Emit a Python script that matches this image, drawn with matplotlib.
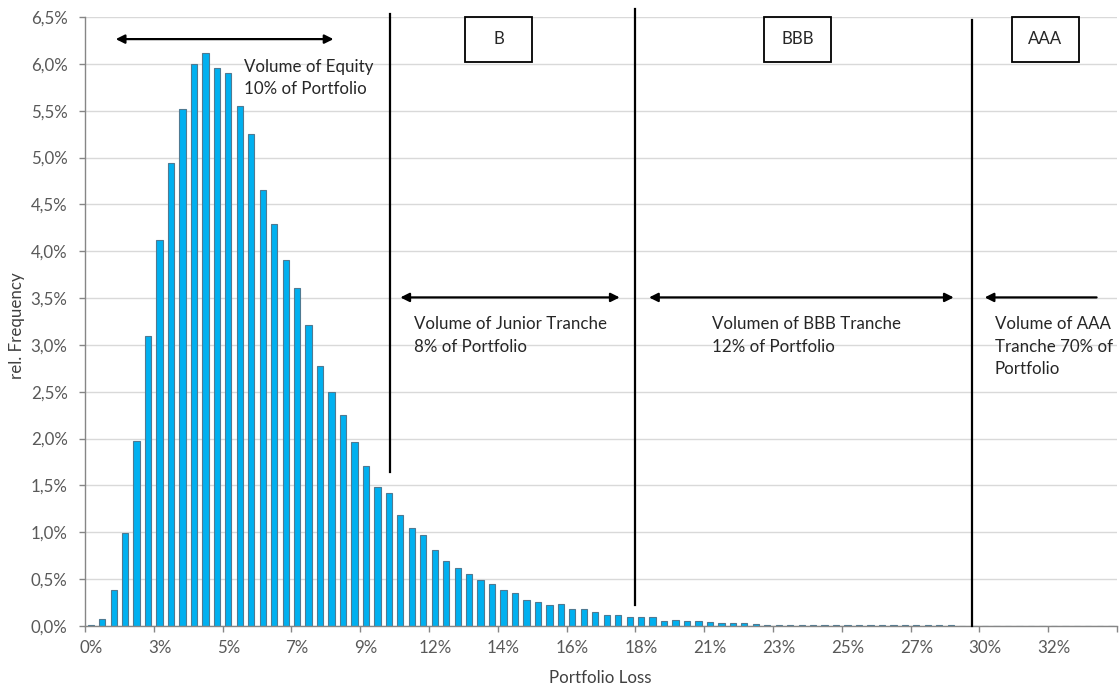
import matplotlib
matplotlib.use("Agg")
import numpy as np
import matplotlib.pyplot as plt
from matplotlib.patches import Rectangle
from matplotlib.ticker import FuncFormatter

# relative frequency (%) per loss bucket
loss_freq = [
    0.01, 0.075, 0.386, 0.993, 1.975, 3.094, 4.116, 4.941, 5.521, 5.998,
    6.112, 5.959, 5.906, 5.553, 5.251, 4.657, 4.286, 3.905, 3.612, 3.217,
    2.772, 2.495, 2.253, 1.968, 1.712, 1.488, 1.42, 1.187, 1.045, 0.972,
    0.809, 0.695, 0.62, 0.553, 0.489, 0.451, 0.383, 0.347, 0.282, 0.252,
    0.221, 0.232, 0.179, 0.186, 0.146, 0.118, 0.118, 0.093, 0.093, 0.093,
    0.054, 0.061, 0.054, 0.054, 0.043, 0.027, 0.033, 0.027, 0.018, 0.014,
    0.014, 0.014, 0.014, 0.014, 0.014, 0.008, 0.006, 0.006, 0.006, 0.006,
    0.006, 0.006, 0.006, 0.006, 0.006, 0.006, 0.004, 0.004, 0.004, 0.004,
    0.004, 0.004, 0.004, 0.004, 0.004, 0.004, 0.004, 0.004, 0.0, 0.0,
]
x_labels = ["0%", "3%", "5%", "7%", "9%", "12%", "14%", "16%", "18%",
            "21%", "23%", "25%", "27%", "30%", "32%"]
label_step = 6
tranche_names = ["B", "BBB", "AAA"]

plt.rcParams['font.family'] = ['Lato', 'DejaVu Sans']
fs = 12.2

W, H = 1119, 688
fig = plt.figure(figsize=(W / 100, H / 100), dpi=100)
ax = fig.add_axes([85 / W, 62 / H, 1032 / W, 609 / H])

n = len(loss_freq)
ax.bar(range(n), loss_freq, width=0.55, color='#00b0f0',
       edgecolor='#4f7a92', linewidth=0.8, zorder=2)

ax.set_xlim(-0.5, n - 0.5)
ax.set_ylim(0, 6.5)
ax.set_yticks(np.arange(0, 6.51, 0.5))
ax.yaxis.set_major_formatter(FuncFormatter(lambda v, p: f"{v:.1f}%".replace('.', ',')))
ax.grid(axis='y', color='#d9d9d9', linewidth=1, zorder=0)
ax.set_axisbelow(True)

ax.set_xticks(range(0, label_step * len(x_labels), label_step))
ax.set_xticklabels(x_labels)
ax.set_xticks(np.arange(-0.5, n, label_step), minor=True)
ax.tick_params(axis='x', which='major', length=0, pad=10, labelsize=fs, labelcolor='#595959')
ax.tick_params(axis='x', which='minor', length=4.5, width=1, color='#868686')
ax.tick_params(axis='y', length=4.5, width=1, color='#868686', pad=8,
               labelsize=fs, labelcolor='#595959')

for side in ['top', 'right']:
    ax.spines[side].set_visible(False)
for side in ['left', 'bottom']:
    ax.spines[side].set_color('#868686')
    ax.spines[side].set_linewidth(1)

fig.text(17 / W, 1 - 326 / H, "rel. Frequency", rotation=90, ha='center', va='center',
         fontsize=fs, color='#404040')
fig.text(600 / W, 1 - 678 / H, "Portfolio Loss", ha='center', va='center',
         fontsize=fs, color='#404040')

# tranche boundaries
for x, y0, y1 in [(26.09, 1.645, 6.53), (47.45, 0.224, 6.59), (76.89, 0.0, 6.47)]:
    ax.plot([x, x], [y0, y1], color='black', linewidth=1.6, clip_on=False, zorder=4)

# tranche boxes
box_w, box_h = 5.84, 0.49
for cx, name in zip([35.58, 61.63, 83.23], tranche_names):
    ax.add_patch(Rectangle((cx - box_w / 2, 6.015), box_w, box_h, fill=False,
                           edgecolor='black', linewidth=1.3, clip_on=False, zorder=4))
    ax.text(cx, 6.26, name, ha='center', va='center', fontsize=fs, color='#262626')

arrow_kw = dict(color='black', lw=1.6, mutation_scale=13, shrinkA=0, shrinkB=0)
for x0, x1, y in [(2.18, 21.17, 6.264), (27.0, 46.13, 3.507), (48.69, 75.26, 3.507)]:
    ax.annotate('', xy=(x1, y), xytext=(x0, y), arrowprops=dict(arrowstyle='<|-|>', **arrow_kw))
ax.annotate('', xy=(77.96, 3.507), xytext=(87.72, 3.507),
            arrowprops=dict(arrowstyle='-|>', **arrow_kw))

notes = [
    (13.33, 5.849, "Volume of Equity\n10% of Portfolio"),
    (28.22, 3.098, "Volume of Junior Tranche\n8% of Portfolio"),
    (54.18, 3.098, "Volumen of BBB Tranche\n12% of Portfolio"),
    (78.83, 2.98, "Volume of AAA\nTranche 70% of\nPortfolio"),
]
for x, y, txt in notes:
    ax.text(x, y, txt, ha='left', va='center', fontsize=fs, color='#262626',
            linespacing=1.5, zorder=5)

fig.savefig("out.png", dpi=100)
